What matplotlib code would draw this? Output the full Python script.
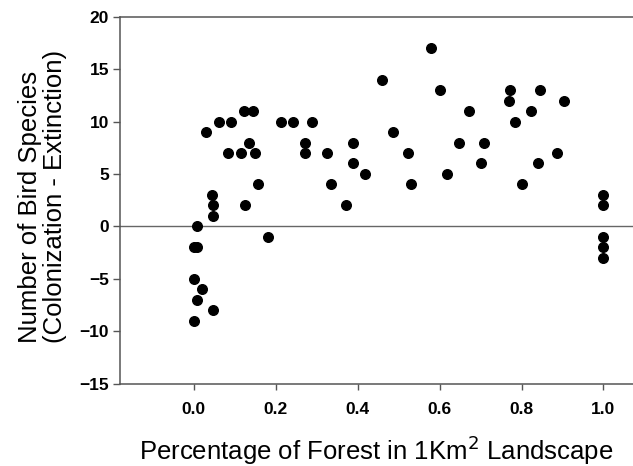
import numpy as np
import matplotlib
matplotlib.use("Agg")
import matplotlib.pyplot as plt

plt.rcParams['font.family'] = ['Liberation Sans', 'DejaVu Sans']

# forest fraction vs net change in bird species
forest = [0.0, 0.046, 0.009, 0.02, 0.0, 0.0, 0.007, 0.008, 0.047, 0.047, 0.045,
          0.031, 0.062, 0.092, 0.084, 0.116, 0.122, 0.145, 0.136, 0.149, 0.126,
          0.156, 0.182, 0.214, 0.243, 0.289, 0.271, 0.271,
          0.324, 0.334, 0.372, 0.388, 0.388, 0.419, 0.460, 0.487, 0.522, 0.530,
          0.579, 0.601, 0.619, 0.648, 0.671, 0.702, 0.709, 0.771, 0.769, 0.784,
          0.800, 0.823, 0.839, 0.844, 0.887, 0.904,
          1.0, 1.0, 1.0, 1.0, 1.0]
species = [-9, -8, -7, -6, -5, -2, -2, 0, 1, 2, 3,
           9, 10, 10, 7, 7, 11, 11, 8, 7, 2,
           4, -1, 10, 10, 10, 8, 7,
           7, 4, 2, 8, 6, 5, 14, 9, 7, 4,
           17, 13, 5, 8, 11, 6, 8, 13, 12, 10,
           4, 11, 6, 13, 7, 12,
           3, 2, -1, -2, -3]

xticks = [0.0, 0.2, 0.4, 0.6, 0.8, 1.0]
yticks = [-15, -10, -5, 0, 5, 10, 15, 20]

fig = plt.figure(figsize=(6.33, 4.66), dpi=100)
ax = fig.add_axes([0.1896, 0.1766, 0.8104, 0.7876])

ax.scatter(forest, species, s=48, color="black", zorder=3)
ax.axhline(0, color="#666666", lw=1.0, zorder=1)

ax.set_xlim(-0.18, 1.072)
ax.set_ylim(-15, 20)
ax.set_xticks(xticks)
ax.set_xticklabels([f"{t:.1f}" for t in xticks])
ax.set_yticks(yticks)

for s in ["left", "bottom", "top"]:
    ax.spines[s].set_color("#555555")
    ax.spines[s].set_linewidth(1.1)
ax.spines["right"].set_visible(False)

ax.tick_params(axis="both", colors="#555555", labelcolor="black", labelsize=12.5)
ax.tick_params(axis="y", length=5, width=1, pad=3)
ax.tick_params(axis="x", length=4, width=1, pad=9)
for lbl in ax.get_xticklabels() + ax.get_yticklabels():
    lbl.set_fontweight("bold")

ax.set_xlabel("Percentage of Forest in 1Km$^2$ Landscape", fontsize=18.5, labelpad=12)
ax.set_ylabel("Number of Bird Species\n(Colonization - Extinction)", fontsize=18.5,
              multialignment="left", linespacing=1.05)
ax.yaxis.set_label_coords(-0.103, 0.51)

fig.savefig("out.png", dpi=100)
